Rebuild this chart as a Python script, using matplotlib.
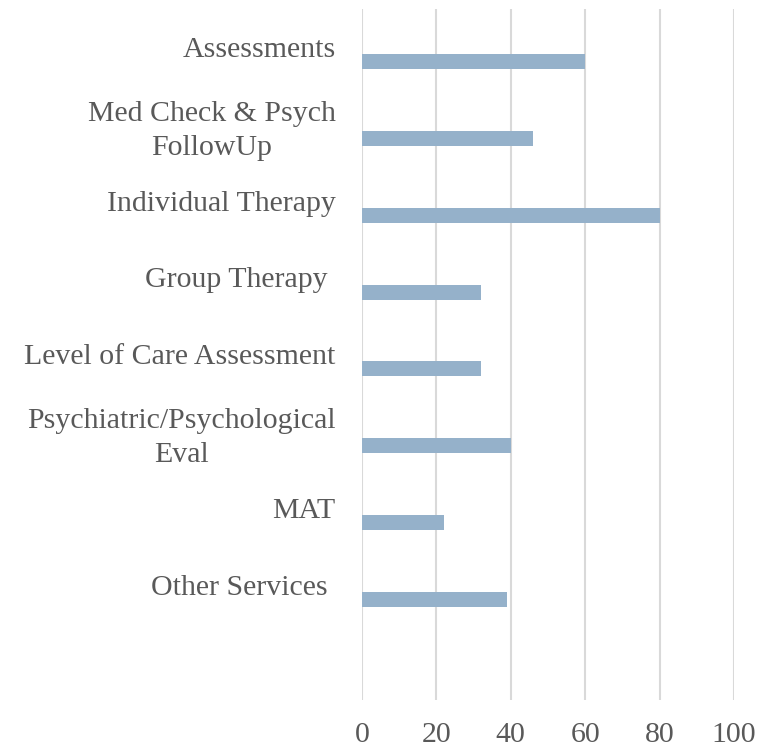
import matplotlib.pyplot as plt

servicos = ['Assessments', 'Med Check & Psych\nFollowUp', 'Individual Therapy',
            'Group Therapy ', 'Level of Care Assessment',
            'Psychiatric/Psychological\nEval', 'MAT', 'Other Services ']
valores = [60, 46, 80, 32, 32, 40, 22, 39]
ticks_x = [0, 20, 40, 60, 80, 100]

cinza = '#595959'
fonte = 'Liberation Serif'

fig = plt.figure(figsize=(7.61, 7.52), dpi=100)
ax = fig.add_axes([362 / 761, 1 - 700 / 752, 372 / 761, 691.5 / 752])

pos = list(range(len(servicos)))
# barra um pouco abaixo do rótulo, como no Excel
ax.barh([p + 0.19 for p in pos], valores, height=0.195, color='#95B1CA', zorder=3)

ax.set_xlim(0, 100)
ax.set_ylim(8.5, -0.5)
ax.set_xticks(ticks_x)
ax.set_yticks(pos)
ax.set_yticklabels(servicos)

ax.tick_params(axis='both', length=0, colors=cinza, labelsize=21.5)
ax.tick_params(axis='y', pad=19)
ax.tick_params(axis='x', pad=16)
for lbl in ax.get_xticklabels() + ax.get_yticklabels():
    lbl.set_fontfamily(fonte)
for lbl in ax.get_yticklabels():
    lbl.set_multialignment('center')
    lbl.set_linespacing(1.4)

ax.grid(axis='x', color='#D9D9D9', linewidth=1.5, zorder=0)
for s in ax.spines.values():
    s.set_visible(False)

fig.savefig('out.png', dpi=100)
